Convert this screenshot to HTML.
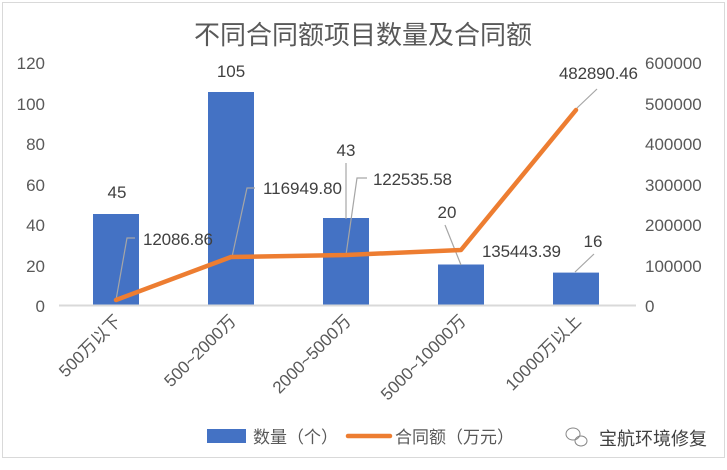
<!DOCTYPE html>
<html><head><meta charset="utf-8"><style>
html,body{margin:0;padding:0;background:#fff;}
svg{display:block;font-family:"Liberation Sans","Noto Sans CJK SC",sans-serif;}
</style></head><body>
<svg width="727" height="470" viewBox="0 0 727 470" xmlns="http://www.w3.org/2000/svg">
<rect x="2.5" y="2.5" width="722" height="455" fill="#fff" stroke="#d9d9d9" stroke-width="1"/>
<text x="363" y="44" text-anchor="middle" font-size="26" fill="#595959">不同合同额项目数量及合同额</text>
<g font-size="17" fill="#595959">
<text x="45" y="69" text-anchor="end">120</text>
<text x="45" y="110" text-anchor="end">100</text>
<text x="45" y="150" text-anchor="end">80</text>
<text x="45" y="191" text-anchor="end">60</text>
<text x="45" y="231" text-anchor="end">40</text>
<text x="45" y="272" text-anchor="end">20</text>
<text x="45" y="312" text-anchor="end">0</text>
<text x="645" y="69">600000</text>
<text x="645" y="110">500000</text>
<text x="645" y="150">400000</text>
<text x="645" y="191">300000</text>
<text x="645" y="231">200000</text>
<text x="645" y="272">100000</text>
<text x="645" y="312">0</text>
</g>
<g fill="#4472c4">
<rect x="93" y="214" width="46" height="91"/>
<rect x="208" y="92" width="46" height="213"/>
<rect x="323" y="218" width="46" height="87"/>
<rect x="438" y="264.5" width="46" height="40.5"/>
<rect x="553" y="272.6" width="46" height="32.4"/>
</g>
<line x1="59" y1="305.5" x2="636" y2="305.5" stroke="#d9d9d9" stroke-width="2"/>
<g stroke="#a6a6a6" stroke-width="1.2" fill="none">
<polyline points="116,300 127,238 135,238"/>
<polyline points="232,257 247,188 255,188"/>
<line x1="346" y1="163" x2="346" y2="219"/>
<polyline points="346,255 357,178 367,178"/>
<line x1="461" y1="265" x2="445" y2="225"/>
<line x1="577" y1="108" x2="597" y2="89"/>
<line x1="575" y1="272" x2="594" y2="254"/>
</g>
<polyline points="116,300 231,257 346,255 461,250 576,110" fill="none" stroke="#ed7d31" stroke-width="4.5" stroke-linejoin="round" stroke-linecap="round"/>
<g font-size="17" fill="#404040">
<text x="117" y="198" text-anchor="middle">45</text>
<text x="231" y="77" text-anchor="middle">105</text>
<text x="346" y="156" text-anchor="middle">43</text>
<text x="447" y="218" text-anchor="middle">20</text>
<text x="593" y="247" text-anchor="middle">16</text>
<text x="143" y="245" textLength="70">12086.86</text>
<text x="263" y="194" textLength="79">116949.80</text>
<text x="373" y="185" textLength="79">122535.58</text>
<text x="482" y="257" textLength="79">135443.39</text>
<text x="559" y="79" textLength="79">482890.46</text>
</g>
<g font-size="17" fill="#595959" text-anchor="end">
<text transform="translate(122,322) rotate(-45)">500万以下</text>
<text transform="translate(237,322) rotate(-45)">500~2000万</text>
<text transform="translate(352,322) rotate(-45)">2000~5000万</text>
<text transform="translate(467,322) rotate(-45)">5000~10000万</text>
<text transform="translate(582,322) rotate(-45)">10000万以上</text>
</g>
<rect x="207" y="429" width="39" height="14" fill="#4472c4"/>
<text x="253" y="443" font-size="17" fill="#595959">数量（个）</text>
<line x1="348" y1="436" x2="390" y2="436" stroke="#ed7d31" stroke-width="4.5" stroke-linecap="round"/>
<text x="395" y="443" font-size="17" fill="#595959">合同额（万元）</text>
<g fill="none" stroke="#888" stroke-width="1">
<ellipse cx="573" cy="434" rx="7" ry="6"/>
<ellipse cx="581" cy="441" rx="6" ry="5"/>
</g>
<text x="599" y="445" font-size="18" fill="#404040">宝航环境修复</text>
</svg>
</body></html>
